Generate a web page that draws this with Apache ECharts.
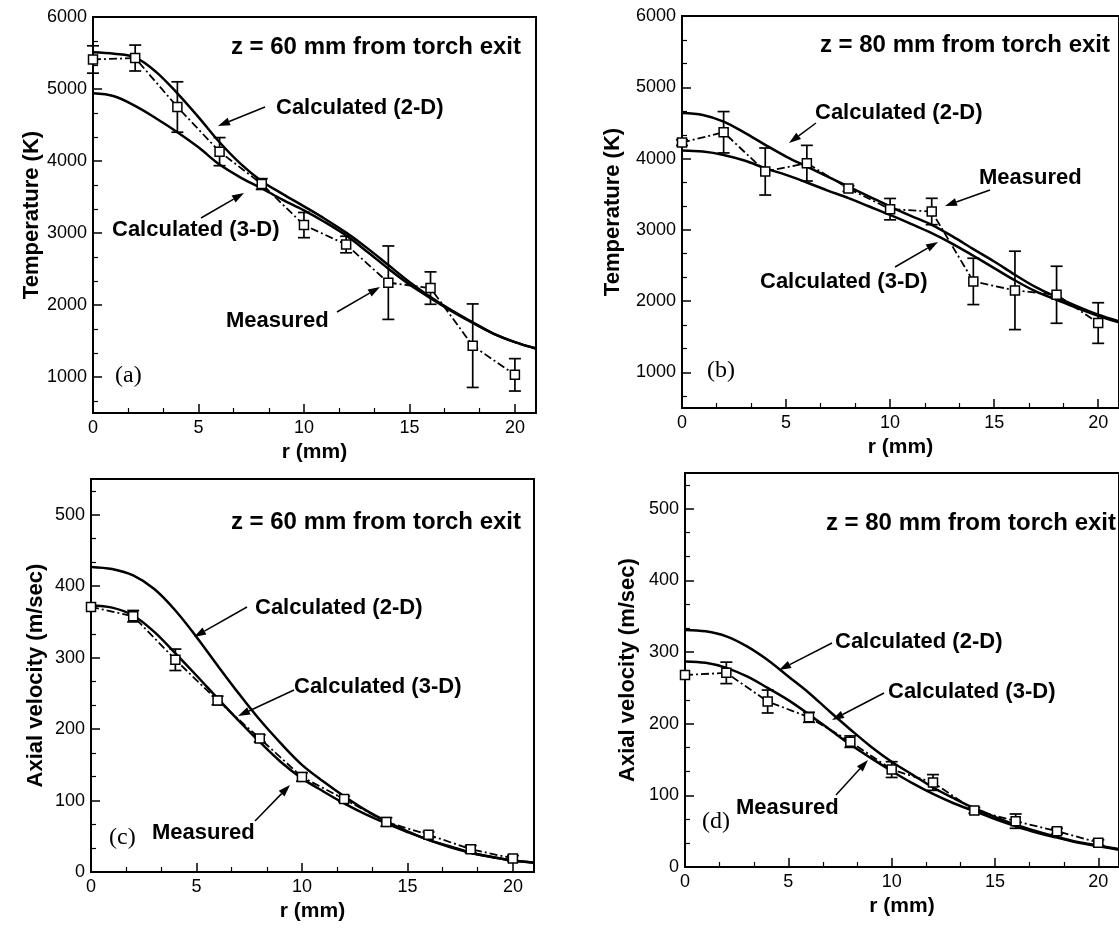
<!DOCTYPE html>
<html><head><meta charset="utf-8">
<script src="https://cdn.jsdelivr.net/npm/echarts@6/dist/echarts.min.js"></script>
<style>html,body{margin:0;padding:0;background:#fff}#c{width:1119px;height:928px}</style>
</head><body><div id="c"></div>
<script>
// ---------- data ----------
const rCalc = [0,1,2,3,4,5,6,7,8,9,10,11,12,13,14,15,16,17,18,19,20,21];
const rMeas = [0,2,4,6,8,10,12,14,16,18,20];

const xTicks = [0,5,10,15,20];
const tempTicks = [1000,2000,3000,4000,5000,6000];
const velTicks = [0,100,200,300,400,500];

// (a) temperature, z = 60 mm
const a2D = [5510,5490,5440,5235,4940,4610,4260,3960,3720,3540,3370,3195,3005,2790,2555,2320,2110,1925,1760,1600,1485,1395];
const a3D = [4940,4900,4765,4590,4400,4190,3950,3770,3620,3460,3315,3150,2965,2740,2505,2285,2095,1915,1750,1600,1485,1395];
const aMeas = [5410,5430,4750,4130,3680,3110,2840,2310,2235,1435,1030];
const aErr  = [190,180,350,195,75,175,115,510,225,580,225];

// (b) temperature, z = 80 mm
const b2D = [4640,4612,4519,4364,4192,4028,3888,3748,3607,3467,3327,3196,3070,2907,2729,2556,2369,2196,2056,1925,1808,1715];
const b3D = [4112,4098,4051,3972,3864,3771,3664,3551,3444,3327,3210,3084,2953,2804,2636,2463,2290,2136,2019,1902,1794,1701];
const bMeas = [4224,4369,3818,3935,3579,3290,3257,2276,2150,2089,1692];
const bErr  = [40,290,330,250,40,150,185,325,550,400,285];

// (c) axial velocity, z = 60 mm
const c2D = [427,424,415,396,366,329,289,250,213,180,150,127,106,87,71,57,45,35,27,21,16,13];
const c3D = [373,370,359,336,306,275,243,212,182,154,131,113,96,81,68,56,45,36,27,21,16,13];
const cMeas = [371,358,297,240,187,133,102,70,52,32,19];
const cErr  = [0,8,15,6,5,6,4,6,4,5,4];

// (d) axial velocity, z = 80 mm
const d2D = [331,329,322,308,289,266,243,217,192,168,147,129,111,96,82,70,59,50,42,35,30,25];
const d3D = [287,285,278,266,250,233,213,192,171,152,134,117,102,89,78,67,57,48,41,34,29,24];
const dMeas = [268,271,231,209,175,136,118,79,64,50,34];
const dErr  = [0,15,16,7,8,11,11,4,10,4,4];

const titles = ['z = 60 mm from torch exit','z = 80 mm from torch exit','z = 60 mm from torch exit','z = 80 mm from torch exit'];
const tags = ['(a)','(b)','(c)','(d)'];
const lbl2D = 'Calculated (2-D)', lbl3D = 'Calculated (3-D)', lblMeas = 'Measured';

// ---------- layout ----------
const FONT = '"Liberation Sans", Arial, sans-serif';
const panels = [
  {grid:{left:93,top:17,width:443,height:396}, yMin:500,yMax:6000, yTicks:tempTicks, yStep:1000, yName:'Temperature (K)', yGap:50,
   c2:a2D,c3:a3D,m:aMeas,e:aErr,
   title:{x:521,y:47}, tag:{x:115,y:376},
   l2:{x:276,y:108}, l3:{x:112,y:230}, lm:{x:226,y:321},
   ar2:[265,107,218,126], ar3:[201,218,244,193], arm:[337,312,380,287]},
  {grid:{left:682,top:16,width:442,height:392}, yMin:500,yMax:6000, yTicks:tempTicks, yStep:1000, yName:'Temperature (K)', yGap:58,
   c2:b2D,c3:b3D,m:bMeas,e:bErr,
   title:{x:1110,y:45}, tag:{x:707,y:371},
   l2:{x:815,y:113}, l3:{x:760,y:282}, lm:{x:979,y:178},
   ar2:[816,123,789,143], ar3:[895,267,938,242], arm:[990,190,945,206]},
  {grid:{left:91,top:479,width:443,height:393}, yMin:0,yMax:550, yTicks:velTicks, yStep:100, yName:'Axial velocity (m/sec)', yGap:44,
   c2:c2D,c3:c3D,m:cMeas,e:cErr,
   title:{x:521,y:522}, tag:{x:109,y:838},
   l2:{x:255,y:608}, l3:{x:294,y:687}, lm:{x:152,y:833},
   ar2:[247,607,194,637], ar3:[294,690,238,716], arm:[255,821,290,785]},
  {grid:{left:685,top:473,width:442,height:394}, yMin:0,yMax:550, yTicks:velTicks, yStep:100, yName:'Axial velocity (m/sec)', yGap:46,
   c2:d2D,c3:d3D,m:dMeas,e:dErr,
   title:{x:1116,y:523}, tag:{x:702,y:822},
   l2:{x:835,y:642}, l3:{x:888,y:692}, lm:{x:736,y:808},
   ar2:[832,643,779,670], ar3:[884,693,832,720], arm:[836,795,868,760]}
];

function minors(lo, hi, step) {
  const out = [];
  const start = Math.floor(lo/step)*step;
  for (let v = start; v < hi; v += step) {
    for (let j = 1; j <= 2; j++) {
      const t = v + step*j/3;
      if (t > lo && t < hi) out.push(t);
    }
  }
  return out;
}

const grids = [], xAxes = [], yAxes = [], series = [], graphics = [];
const axisLineStyle = {color:'#000', width:2};
const plain = v => String(v);

function arrow(a) {
  const [x1,y1,x2,y2] = a;
  const dx = x2-x1, dy = y2-y1, L = Math.hypot(dx,dy);
  const ux = dx/L, uy = dy/L, hl = 12, hw = 4;
  const bx = x2 - ux*hl, by = y2 - uy*hl;
  return [
    {type:'line', shape:{x1,y1,x2:bx,y2:by}, style:{stroke:'#000', lineWidth:1.5}},
    {type:'polygon', shape:{points:[[x2,y2],[bx - uy*hw, by + ux*hw],[bx + uy*hw, by - ux*hw]]}, style:{fill:'#000'}}
  ];
}
function text(t, x, y, font, align) {
  return {type:'text', x:x, y:y, style:{text:t, font:font, fill:'#000', textAlign:align||'left', textVerticalAlign:'middle'}};
}

panels.forEach((p, i) => {
  grids.push(Object.assign({show:true, borderColor:'#000', borderWidth:2, backgroundColor:'#fff'}, p.grid));
  xAxes.push({type:'value', gridIndex:i, min:0, max:21, position:'bottom',
    axisLine:{show:true, onZero:false, lineStyle:axisLineStyle},
    axisTick:{show:true, inside:true, length:9, lineStyle:{color:'#000', width:1.5}, customValues:xTicks},
    axisLabel:{customValues:xTicks, formatter:plain, color:'#000', fontSize:18, fontFamily:FONT, margin:6},
    splitLine:{show:false},
    name:'r (mm)', nameLocation:'middle', nameGap:29,
    nameTextStyle:{color:'#000', fontSize:21, fontWeight:'bold', fontFamily:FONT}});
  xAxes.push({type:'value', gridIndex:i, min:0, max:21, position:'bottom',
    axisLine:{show:false, onZero:false},
    axisTick:{show:true, inside:true, length:5, lineStyle:{color:'#000', width:1.2}, customValues:minors(0,20.01,5)},
    axisLabel:{show:false}, splitLine:{show:false}});
  yAxes.push({type:'value', gridIndex:i, min:p.yMin, max:p.yMax, position:'left',
    axisLine:{show:true, onZero:false, lineStyle:axisLineStyle},
    axisTick:{show:true, inside:true, length:9, lineStyle:{color:'#000', width:1.5}, customValues:p.yTicks},
    axisLabel:{customValues:p.yTicks, formatter:plain, color:'#000', fontSize:18, fontFamily:FONT, margin:6},
    splitLine:{show:false},
    name:p.yName, nameLocation:'middle', nameGap:p.yGap,
    nameTextStyle:{color:'#000', fontSize:22, fontWeight:'bold', fontFamily:FONT}});
  yAxes.push({type:'value', gridIndex:i, min:p.yMin, max:p.yMax, position:'left',
    axisLine:{show:false, onZero:false},
    axisTick:{show:true, inside:true, length:5, lineStyle:{color:'#000', width:1.2}, customValues:minors(p.yMin,p.yMax,p.yStep)},
    axisLabel:{show:false}, splitLine:{show:false}});

  const xi = 2*i, yi = 2*i;
  series.push({type:'line', xAxisIndex:xi, yAxisIndex:yi, name:lbl2D, data:rCalc.map((r,k)=>[r,p.c2[k]]),
    smooth:0.35, showSymbol:false, lineStyle:{color:'#000', width:2.5}, z:2, silent:true});
  series.push({type:'line', xAxisIndex:xi, yAxisIndex:yi, name:lbl3D, data:rCalc.map((r,k)=>[r,p.c3[k]]),
    smooth:0.35, showSymbol:false, lineStyle:{color:'#000', width:2.5}, z:2, silent:true});
  series.push({type:'custom', xAxisIndex:xi, yAxisIndex:yi, name:'err', z:3, silent:true,
    data:rMeas.map((r,k)=>[r,p.m[k],p.e[k]]),
    renderItem:function(params, api){
      const x = api.value(0), y = api.value(1), e = api.value(2);
      if (!e) return null;
      const t = api.coord([x, y+e]), b = api.coord([x, y-e]);
      const st = {stroke:'#000', lineWidth:1.7};
      return {type:'group', children:[
        {type:'line', shape:{x1:t[0],y1:t[1],x2:b[0],y2:b[1]}, style:st},
        {type:'line', shape:{x1:t[0]-6,y1:t[1],x2:t[0]+6,y2:t[1]}, style:st},
        {type:'line', shape:{x1:b[0]-6,y1:b[1],x2:b[0]+6,y2:b[1]}, style:st}
      ]};
    }});
  series.push({type:'line', xAxisIndex:xi, yAxisIndex:yi, name:lblMeas, data:rMeas.map((r,k)=>[r,p.m[k]]),
    symbol:'rect', symbolSize:9, showSymbol:true,
    itemStyle:{color:'#fff', borderColor:'#000', borderWidth:1.5},
    lineStyle:{color:'#000', width:1.8, type:[8,3,2,3]}, z:4, silent:true});

  graphics.push(text(titles[i], p.title.x, p.title.y, 'bold 24px ' + FONT, 'right'));
  graphics.push(text(tags[i], p.tag.x, p.tag.y, '24px "Liberation Serif", "Times New Roman", serif', 'left'));
  graphics.push(text(lbl2D, p.l2.x, p.l2.y, 'bold 22px ' + FONT, 'left'));
  graphics.push(text(lbl3D, p.l3.x, p.l3.y, 'bold 22px ' + FONT, 'left'));
  graphics.push(text(lblMeas, p.lm.x, p.lm.y, 'bold 22px ' + FONT, 'left'));
  arrow(p.ar2).forEach(g=>graphics.push(g));
  arrow(p.ar3).forEach(g=>graphics.push(g));
  arrow(p.arm).forEach(g=>graphics.push(g));
});

const chart = echarts.init(document.getElementById('c'), null, {renderer:'canvas'});
chart.setOption({
  animation:false,
  backgroundColor:'#fff',
  grid:grids, xAxis:xAxes, yAxis:yAxes, series:series,
  graphic:{elements:graphics.map(g=>Object.assign({z:100}, g))}
});
</script></body></html>
